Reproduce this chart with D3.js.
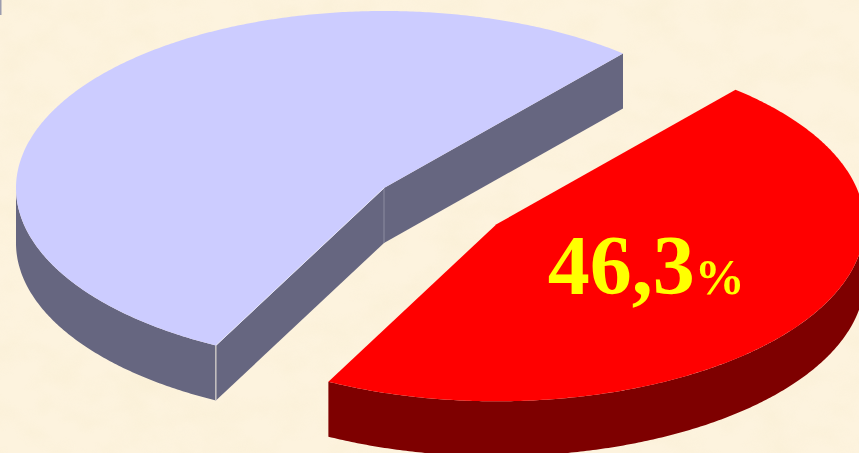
<!DOCTYPE html>
<html><head><meta charset="utf-8">
<script src="https://cdn.jsdelivr.net/npm/d3@7"></script>
<style>html,body{margin:0;padding:0;overflow:hidden;background:#FCF1D9}</style>
</head><body>
<svg id="c" width="859" height="453"></svg>
<script>
// ---- data ----
const categories = ["Share A", "Share B"];
const values = [46.3, 53.7];
const labels = ["46,3", ""];
const labelUnits = ["%", ""];
const topColors = ["#FF0000", "#CCCCFF"];
const sideColors = ["#7E0000", "#666680"];
const explodeFrac = [0.368, 0];

// ---- geometry ----
const W = 859, H = 453;
const cx = 384, cy = 188, rx = 368, ry = 177, depth = 55;
const startDeg = 40.5;
const svg = d3.select("#c");

// background parchment
const defs = svg.append("defs");
const f = defs.append("filter").attr("id","parch").attr("x",0).attr("y",0).attr("width","100%").attr("height","100%");
f.append("feTurbulence").attr("type","fractalNoise").attr("baseFrequency","0.025 0.035").attr("numOctaves",3).attr("seed",7).attr("result","n");
f.append("feColorMatrix").attr("in","n").attr("type","matrix")
 .attr("values","0 0 0 0 0.93  0 0 0 0 0.84  0 0 0 0 0.62  1.2 0 0 0 -0.45");
svg.append("rect").attr("width",W).attr("height",H).attr("fill","#FDF3DE");
svg.append("rect").attr("width",W).attr("height",H).attr("filter","url(#parch)").attr("opacity",0.6);
svg.append("rect").attr("x",0).attr("y",0).attr("width",1.5).attr("height",15).attr("fill","#9c9cae");

const pie = d3.pie().sort(null).value(d => d)
  .startAngle(startDeg*Math.PI/180).endAngle(startDeg*Math.PI/180 + 2*Math.PI);
const arcs = pie(values);

const line = d3.line();
const deg = Math.PI/180;
function pt(c, phi, dy=0){ return [c[0] + rx*Math.cos(phi), c[1] + ry*Math.sin(phi) + dy]; }
function rimPts(c, a0, a1, dy=0){
  const n = Math.max(2, Math.ceil(Math.abs(a1-a0)/(0.5*deg)));
  return d3.range(n+1).map(i => pt(c, a0 + (a1-a0)*i/n, dy));
}

// draw back slice (lavender) first, then the exploded front slice
const order = [1, 0];
order.forEach(i => {
  const a = arcs[i];
  const p0 = a.startAngle - Math.PI/2, p1 = a.endAngle - Math.PI/2;
  const mid = (p0+p1)/2;
  const c = [cx + explodeFrac[i]*rx*Math.cos(mid), cy + explodeFrac[i]*ry*Math.sin(mid)];
  const g = svg.append("g");

  // radial walls
  if (Math.cos(p0) < 0) {
    const e = pt(c,p0);
    g.append("path").attr("d", line([c, e, [e[0], e[1]+depth], [c[0], c[1]+depth]]) + "Z")
      .attr("fill", sideColors[i]);
  }
  if (Math.cos(p1) > 0) {
    const e = pt(c,p1);
    g.append("path").attr("d", line([c, e, [e[0], e[1]+depth], [c[0], c[1]+depth]]) + "Z")
      .attr("fill", sideColors[i]);
  }
  // outer curved wall (front half: phi in [0, PI] mod 2PI)
  [-2*Math.PI, 0, 2*Math.PI].forEach(k => {
    const lo = Math.max(p0, k), hi = Math.min(p1, k + Math.PI);
    if (hi > lo) {
      const top = rimPts(c, lo, hi, 0);
      const bot = rimPts(c, hi, lo, depth);
      g.append("path").attr("d", line(top.concat(bot)) + "Z").attr("fill", sideColors[i]);
    }
  });
  // edge highlight lines
  if (Math.cos(p0) < 0) {
    const e = pt(c,p0);
    g.append("line").attr("x1",e[0]).attr("y1",e[1]).attr("x2",e[0]).attr("y2",e[1]+depth)
      .attr("stroke","#f4eee0").attr("stroke-width",1);
  }
  if (Math.cos(p0) < 0 && Math.cos(p1) > 0) {
    g.append("line").attr("x1",c[0]).attr("y1",c[1]).attr("x2",c[0]).attr("y2",c[1]+depth)
      .attr("stroke","#8c8ca0").attr("stroke-width",1);
  }
  // top
  const topPts = [c].concat(rimPts(c, p0, p1, 0));
  g.append("path").attr("d", line(topPts) + "Z").attr("fill", topColors[i]);
  if (Math.cos(p0) < 0) {
    const e = pt(c,p0);
    g.append("line").attr("x1",c[0]).attr("y1",c[1]).attr("x2",e[0]).attr("y2",e[1])
      .attr("stroke","#e4e4f6").attr("stroke-width",1);
  }

  // label
  if (labels[i]) {
    const lx = c[0] + 0.49*rx*Math.cos(mid), ly = c[1] + 0.49*ry*Math.sin(mid);
    const t = g.append("text").attr("x", lx).attr("y", ly + 21)
      .attr("text-anchor","middle")
      .attr("font-family","'Liberation Serif','Times New Roman',serif")
      .attr("font-weight","bold").attr("fill","#FFFF00");
    t.append("tspan").attr("font-size", 84).text(labels[i]);
    t.append("tspan").attr("font-size", 50).text(labelUnits[i]);
  }
});
</script>
</body></html>
